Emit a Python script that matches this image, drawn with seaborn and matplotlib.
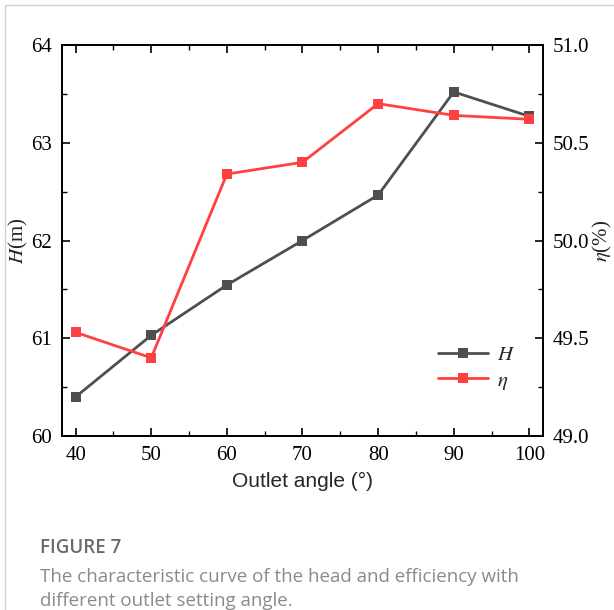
import matplotlib
matplotlib.use("Agg")
import matplotlib.pyplot as plt
from matplotlib.ticker import MultipleLocator, FormatStrFormatter
from matplotlib.lines import Line2D
import seaborn as sns
import pandas as pd

# Outlet setting angle (deg) and the resulting head / efficiency
angles = [40, 50, 60, 70, 80, 90, 100]
head_m = [60.40, 61.03, 61.545, 62.0, 62.465, 63.52, 63.27]
efficiency_pct = [49.53, 49.40, 50.34, 50.40, 50.70, 50.64, 50.62]

df = pd.DataFrame({"angle": angles, "H": head_m, "eta": efficiency_pct})

sns.set_theme(style="white")
plt.rcParams["font.family"] = ["Liberation Serif", "DejaVu Serif"]
plt.rcParams["mathtext.fontset"] = "stix"

H_COLOR = "#4f4f4f"
ETA_COLOR = "#ff4040"

fig = plt.figure(figsize=(6.14, 6.10), dpi=100)
ax = fig.add_axes([62 / 614, 1 - 436 / 610, (543 - 62) / 614, (436 - 45) / 610])
ax2 = ax.twinx()

sns.lineplot(data=df, x="angle", y="H", ax=ax, color=H_COLOR, marker="s",
             markersize=6.5, markeredgewidth=0, linewidth=2.0, label="$H$", legend=False)
sns.lineplot(data=df, x="angle", y="eta", ax=ax2, color=ETA_COLOR, marker="s",
             markersize=6.5, markeredgewidth=0, linewidth=2.0, label=r"$\eta$", legend=False)

ax.set_xlim(38.2, 101.8)
ax.set_ylim(60, 64)
ax2.set_ylim(49.0, 51.0)

ax.xaxis.set_major_locator(MultipleLocator(10))
ax.xaxis.set_minor_locator(MultipleLocator(5))
ax.yaxis.set_major_locator(MultipleLocator(1))
ax.yaxis.set_minor_locator(MultipleLocator(0.5))
ax2.yaxis.set_major_locator(MultipleLocator(0.5))
ax2.yaxis.set_minor_locator(MultipleLocator(0.25))
ax2.yaxis.set_major_formatter(FormatStrFormatter("%.1f"))

for a in (ax, ax2):
    for s in a.spines.values():
        s.set_color("black")
        s.set_linewidth(1.3)

ax.tick_params(axis="x", which="both", direction="in", top=True, bottom=True,
               labelsize=15, pad=7, color="black", labelcolor="black")
ax.tick_params(axis="x", which="major", length=6, width=1.2)
ax.tick_params(axis="x", which="minor", length=3.5, width=1.0)
ax.tick_params(axis="y", which="both", direction="in", left=True, right=False,
               labelsize=15, pad=7, color="black", labelcolor="black")
ax.tick_params(axis="y", which="major", length=6, width=1.2)
ax.tick_params(axis="y", which="minor", length=3.5, width=1.0)
ax2.tick_params(axis="y", which="both", direction="in", right=True, left=False,
                labelsize=15, pad=7, color="black", labelcolor="black")
ax2.tick_params(axis="y", which="major", length=6, width=1.2)
ax2.tick_params(axis="y", which="minor", length=3.5, width=1.0)

ax.set_xlabel("Outlet angle (°)", fontsize=15, family=["Liberation Sans", "DejaVu Sans"],
              labelpad=5)
ax.set_ylabel("$H$(m)", fontsize=15, labelpad=1)
ax2.set_ylabel(r"$\eta$(%)", fontsize=15, labelpad=1, rotation=90)

handles = [
    Line2D([], [], color=H_COLOR, marker="s", markersize=6.5, markeredgewidth=0, linewidth=2.0),
    Line2D([], [], color=ETA_COLOR, marker="s", markersize=6.5, markeredgewidth=0, linewidth=2.0),
]
ax.legend(handles, ["$H$", r"$\eta$"], loc="upper left",
          bbox_to_anchor=((430 - 62) / 481, 1 - (337 - 45) / 391),
          frameon=False, fontsize=15, handlelength=2.4, handletextpad=0.4,
          labelspacing=0.3, borderaxespad=0)

# Caption block below the chart
cap_font = ["Open Sans", "DejaVu Sans"]
fig.text(40 / 614, 1 - 548 / 610, "FIGURE 7", fontsize=13.5, color="#6b6b6b",
         family=cap_font, weight="semibold", va="center")
fig.text(40 / 614, 1 - 582 / 610,
         "The characteristic curve of the head and efficiency with",
         fontsize=13.5, color="#8a8a8a", family=cap_font, va="baseline")
fig.text(40 / 614, 1 - 606 / 610, "different outlet setting angle.",
         fontsize=13.5, color="#8a8a8a", family=cap_font, va="baseline")

# Card border on top and left edges
fig.add_artist(Line2D([5 / 614, 5 / 614], [0, 1 - 5 / 610], transform=fig.transFigure,
                      color="#d0d0d0", linewidth=1.0))
fig.add_artist(Line2D([5 / 614, 1], [1 - 5 / 610, 1 - 5 / 610], transform=fig.transFigure,
                      color="#d0d0d0", linewidth=1.0))

fig.savefig("out.png", dpi=100)
